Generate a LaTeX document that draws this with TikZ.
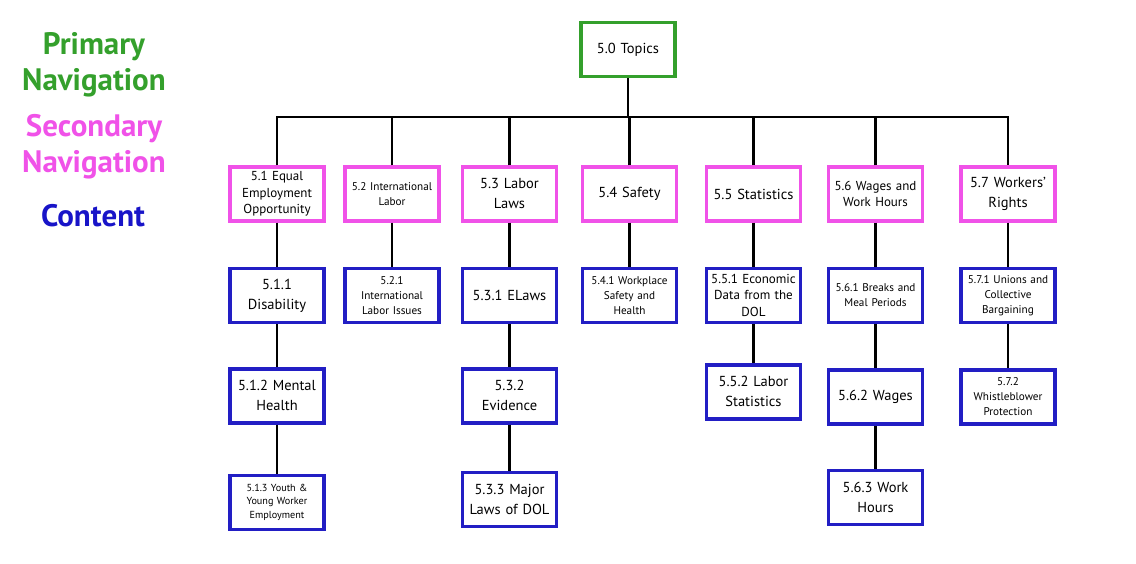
\documentclass[tikz,border=0pt]{standalone}
\usepackage{fontspec}
\setmainfont{PT Sans}
\usetikzlibrary{positioning}
\definecolor{navgreen}{RGB}{52,160,44}
\definecolor{navpink}{RGB}{240,82,232}
\definecolor{contentblue}{RGB}{34,30,196}
\definecolor{legendblue}{RGB}{24,20,200}

\newcommand{\bigtxt}{\fontsize{14.5}{20}\selectfont}
\newcommand{\midtxt}{\fontsize{13}{16.5}\selectfont}
\newcommand{\smalltxt}{\fontsize{11.2}{15}\selectfont}
\newcommand{\tinytxt}{\fontsize{10.2}{13.5}\selectfont}

\begin{document}
\begin{tikzpicture}[
  x=1pt,y=-1pt,
  box/.style={draw,line width=3.4pt,fill=white,minimum width=94pt,minimum height=54pt,
    text width=90pt,align=center,inner sep=2pt,font=\bigtxt},
  primary/.style={box,draw=navgreen},
  secondary/.style={box,draw=navpink},
  content/.style={box,draw=contentblue},
  link/.style={line width=2.3pt,black},
  legend/.style={font=\fontsize{31}{36}\selectfont\bfseries,align=center}
]
  \useasboundingbox (0,0) rectangle (1136,564);

  % legend
  \node[legend,text=navgreen] (lprim) at (94,65) {Primary\\Navigation};
  \node[legend,text=navpink] (lsec) at (94,147) {Secondary\\Navigation};
  \node[legend,text=legendblue] (lcont) at (93,216) {Content};

  % top level
  \node[primary] (top) at (628,49.5) {5.0 Topics};
  \coordinate (bar) at (628,117);

  % secondary navigation
  \node[secondary,font=\midtxt] (s1) at (277,194) {5.1 Equal\\Employment\\Opportunity};
  \node[secondary,font=\smalltxt] (s2) at (392,194) {5.2 International\\Labor};
  \node[secondary] (s3) at (509.5,194) {5.3 Labor\\Laws};
  \node[secondary] (s4) at (629.5,194) {5.4 Safety};
  \node[secondary] (s5) at (753.5,194) {5.5 Statistics};
  \node[secondary,font=\midtxt] (s6) at (875.5,194) {5.6 Wages and\\Work Hours};
  \node[secondary] (s7) at (1008,194) {5.7 Workers'\\Rights};

  % content
  \node[content,below=44pt of s1] (c11) {5.1.1\\Disability};
  \node[content,below=43pt of c11] (c12) {5.1.2 Mental\\Health};
  \node[content,below=49pt of c12,font=\tinytxt] (c13) {5.1.3 Youth \&\\Young Worker\\Employment};
  \node[content,below=44pt of s2,font=\smalltxt] (c21) {5.2.1\\International\\Labor Issues};
  \node[content,below=44pt of s3] (c31) {5.3.1 ELaws};
  \node[content,below=43pt of c31] (c32) {5.3.2\\Evidence};
  \node[content,below=46pt of c32] (c33) {5.3.3 Major\\Laws of DOL};
  \node[content,below=44pt of s4,font=\smalltxt] (c41) {5.4.1 Workplace\\Safety and\\Health};
  \node[content,below=44pt of s5,font=\midtxt] (c51) {5.5.1 Economic\\Data from the\\DOL};
  \node[content,below=39pt of c51] (c52) {5.5.2 Labor\\Statistics};
  \node[content,below=44pt of s6,font=\smalltxt] (c61) {5.6.1 Breaks and\\Meal Periods};
  \node[content,below=44pt of c61] (c62) {5.6.2 Wages};
  \node[content,below=43pt of c62] (c63) {5.6.3 Work\\Hours};
  \node[content,below=44pt of s7,font=\smalltxt] (c71) {5.7.1 Unions and\\Collective\\Bargaining};
  \node[content,below=44pt of c71,font=\smalltxt] (c72) {5.7.2\\Whistleblower\\Protection};

  % connectors
  \draw[link] (top) -- (bar);
  \draw[link] (s1.north) |- (bar) -| (s7.north);
  \foreach \s in {s2,s3,s4,s5,s6}
    \draw[link] (\s.north) -- (\s.north |- bar);
  \draw[link] (s1) -- (c11);
  \draw[link] (c11) -- (c12);
  \draw[link] (c12) -- (c13);
  \draw[link] (s2) -- (c21);
  \draw[link] (s3) -- (c31);
  \draw[link] (c31) -- (c32);
  \draw[link] (c32) -- (c33);
  \draw[link] (s4) -- (c41);
  \draw[link] (s5) -- (c51);
  \draw[link] (c51) -- (c52);
  \draw[link] (s6) -- (c61);
  \draw[link] (c61) -- (c62);
  \draw[link] (c62) -- (c63);
  \draw[link] (s7) -- (c71);
  \draw[link] (c71) -- (c72);
\end{tikzpicture}
\end{document}
